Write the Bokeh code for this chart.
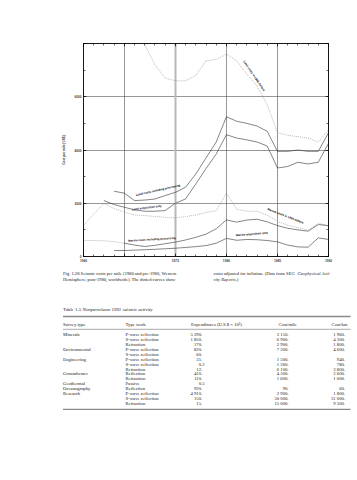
from bokeh.plotting import figure
from bokeh.models import Range1d, LinearAxis, FixedTicker, Grid, ColumnDataSource
from bokeh.embed import file_html
from bokeh.resources import INLINE
from bokeh.core.properties import value

# ---------------- chart data (cost per mile, US$) ----------------
land_1990_years = list(range(1971, 1991))
land_1990_cost = [8600, 7950, 7200, 6700, 6600, 6600, 6800, 7350, 7400, 7600,
                  7350, 6850, 6400, 5700, 4650, 4550, 4500, 4450, 4300, 4750]

land_proc_years = list(range(1969, 1991))
land_proc_cost = [2450, 2380, 2100, 2120, 2160, 2290, 2410, 2600, 3100, 3700, 4300,
                  5250, 5080, 5000, 4900, 4700, 3950, 3950, 4000, 3950, 3950, 4650]

land_acq_years = list(range(1968, 1991))
land_acq_cost = [2100, 1950, 1850, 1750, 1700, 1700, 1725, 2000, 2160, 2725, 3300, 3850,
                 4575, 4450, 4380, 4300, 4150, 3325, 3380, 3540, 3475, 3540, 4250]

marine_1990_years = list(range(1966, 1991))
marine_1990_cost = [1160, 1600, 2000, 1800, 1660, 1560, 1540, 1500, 1475, 1450, 1500, 1560,
                    1650, 1720, 2375, 1780, 1700, 1700, 1550, 1320, 1180, 1080, 990, 1250, 1150]

marine_early_years = list(range(1966, 1971))
marine_early_cost = [600, 600, 590, 560, 500]

marine_proc_years = list(range(1970, 1991))
marine_proc_cost = [500, 430, 375, 420, 480, 540, 620, 720, 840, 1040, 1375,
                    1290, 1370, 1400, 1300, 1160, 1060, 1000, 950, 1200, 1160]

marine_acq_years = list(range(1969, 1991))
marine_acq_cost = [225, 225, 240, 255, 270, 290, 310, 340, 370, 410, 500,
                   680, 610, 640, 630, 600, 550, 430, 360, 350, 700, 640]

curve_labels = ["Land costs in 1990 dollars", "Land costs including processing",
                "Land acquisition only", "Marine costs including processing",
                "Marine acquisition only", "Marine costs in 1990 dollars"]

x_major = [1966, 1970, 1975, 1980, 1985, 1990]
x_minor = list(range(1966, 1991))
y_major = [0, 2000, 4000, 6000, 8000]
y_minor = list(range(0, 8001, 1000))

# ---------------- caption / table data ----------------
fig_caption_left = ["Fig. 1.28  Seismic costs per mile (1980 and pre-1980, Western",
                    "Hemisphere; post-1980, worldwide). The dotted curves show"]
fig_caption_right = "costs adjusted for inflation. (Data from SEG "
fig_caption_right_it = "Geophysical Acti-"
fig_caption_right2 = "vity Reports.)"

table_number = "Table 1.5 "
table_title = "Nonpetroleum 1991 seismic activity"
headers = ["Survey type", "Type work", "Expenditures (U.S.$ \u00d7 10\u00b3)", "Cost/mile", "Cost/km"]
survey_type = ["Minerals", "", "", "Environmental", "", "Engineering", "", "",
               "Groundwater", "", "Geothermal", "Oceanography", "Research", "", ""]
type_work = ["P-wave reflection", "S-wave reflection", "Refraction",
             "P-wave reflection", "S-wave reflection",
             "P-wave reflection", "S-wave reflection", "Refraction",
             "Reflection", "Refraction", "Passive", "Reflection",
             "P-wave reflection", "S-wave reflection", "Refraction"]
expenditures = ["5 290.", "1 850.", "170.", "820.", "60.", "31.", "0.2", "12.",
                "410.", "110.", "0.5", "920.", "4 910.", "150.", "15."]
cost_mile = ["3 150.", "6 900.", "2 900.", "7 300.", "", "1 500.", "1 260.", "6 100.",
             "4 300.", "1 600.", "", "90.", "2 900.", "50 000.", "15 000."]
cost_km = ["1 960.", "4 300.", "1 800.", "4 600.", "", "940.", "780.", "3 800.",
           "2 600.", "1 000.", "", "60.", "1 800.", "31 000.", "9 300."]

# ---------------- chart ----------------
W = 357
CHART_H = 266
p = figure(width=W, height=CHART_H, output_backend="svg", toolbar_location=None,
           x_range=Range1d(1966, 1990), y_range=Range1d(0, 8000),
           min_border_left=83, min_border_right=29, min_border_top=43,
           min_border_bottom=10)
p.outline_line_color = "black"
p.outline_line_width = 0.7
p.background_fill_color = "white"
p.border_fill_color = "white"

SANS = value("Liberation Sans")


def style_axis(ax, labels=True):
    ax.axis_line_color = "black"
    ax.axis_line_width = 0.7
    ax.major_tick_in = 3
    ax.major_tick_out = 0
    ax.minor_tick_in = 2
    ax.minor_tick_out = 0
    ax.major_tick_line_color = "black"
    ax.minor_tick_line_color = "black"
    ax.major_tick_line_width = 0.6
    ax.minor_tick_line_width = 0.6
    ax.major_label_text_font = "Liberation Sans"
    ax.major_label_text_font_style = "bold"
    ax.major_label_text_font_size = "3.2px" if labels else "0px"
    ax.major_label_standoff = 2 if labels else 0


p.xaxis.ticker = FixedTicker(ticks=x_major, minor_ticks=x_minor)
p.xaxis.major_label_overrides = {1970: ""}
style_axis(p.xaxis[0])
p.yaxis.ticker = FixedTicker(ticks=y_major, minor_ticks=y_minor)
p.yaxis.major_label_overrides = {8000: ""}
style_axis(p.yaxis[0])
p.yaxis.axis_label = "Cost per mile (US$)"
p.yaxis.axis_label_text_font = "Liberation Sans"
p.yaxis.axis_label_text_font_style = "bold"
p.yaxis.axis_label_text_font_size = "3.2px"
p.yaxis.axis_label_standoff = 6

top_ax = LinearAxis(ticker=FixedTicker(ticks=x_major, minor_ticks=x_minor),
                    major_label_overrides={t: "" for t in x_major})
style_axis(top_ax, labels=False)
p.add_layout(top_ax, "above")
right_ax = LinearAxis(ticker=FixedTicker(ticks=y_major, minor_ticks=y_minor),
                      major_label_overrides={t: "" for t in y_major})
style_axis(right_ax, labels=False)
p.add_layout(right_ax, "right")

p.xgrid.ticker = FixedTicker(ticks=[1970, 1980, 1985])
p.xgrid.grid_line_color = "#505050"
p.xgrid.grid_line_width = 0.6
p.ygrid.ticker = FixedTicker(ticks=y_major)
p.ygrid.grid_line_color = "#505050"
p.ygrid.grid_line_width = 0.6
p.add_layout(Grid(dimension=0, ticker=FixedTicker(ticks=[1975]),
                  grid_line_color="#b8b8b8", grid_line_width=2.0))

solid = dict(line_color="#333333", line_width=0.6)
dotted = dict(line_color="#8a8a8a", line_width=0.6, line_dash="1 1")

p.line(land_1990_years, land_1990_cost, **dotted)
p.line(land_proc_years, land_proc_cost, **solid)
p.line(land_acq_years, land_acq_cost, **solid)
p.line(marine_1990_years, marine_1990_cost, **dotted)
p.line(marine_early_years, marine_early_cost, **dotted)
p.line(marine_proc_years, marine_proc_cost, **solid)
p.line(marine_acq_years, marine_acq_cost, **solid)

label_src = ColumnDataSource(dict(
    x=[1982.75, 1973.3, 1972.2, 1972.7, 1982.5, 1985.8],
    y=[6790, 2510, 1850, 660, 860, 1540],
    text=curve_labels,
    angle=[-0.97, 0.22, 0.12, 0.06, 0.08, -0.37],
))
p.text(x="x", y="y", text="text", angle="angle", source=label_src,
       text_font=SANS, text_font_style="bold", text_font_size="2.9px",
       text_align="center", text_baseline="middle", text_color="black")

# ---------------- caption + table (separate root, page-pixel coordinates) ----------------
q = figure(width=W, height=480 - CHART_H, output_backend="svg", toolbar_location=None,
           x_range=Range1d(0, W), y_range=Range1d(480, CHART_H),
           x_axis_type=None, y_axis_type=None, min_border=0)
q.outline_line_color = None
q.xgrid.visible = False
q.ygrid.visible = False
q.background_fill_color = "white"
q.border_fill_color = "white"

SERIF = value("Liberation Serif")
base = dict(text_font=SERIF, text_baseline="middle", text_color="#1a1a1a")

cap_fs = "4.6px"
q.text(x=[62.5, 62.5], y=[272.5, 278.5], text=fig_caption_left, text_font_size=cap_fs, **base)
q.text(x=[213], y=[272.5], text=[fig_caption_right], text_font_size=cap_fs, **base)
q.text(x=[297], y=[272.5], text=[fig_caption_right_it], text_font_size=cap_fs,
       text_font_style="italic", **base)
q.text(x=[213], y=[278.5], text=[fig_caption_right2], text_font_size=cap_fs,
       text_font_style="italic", **base)

q.text(x=[62.5], y=[309], text=[table_number], text_font_size="4.9px", **base)
q.text(x=[82], y=[309], text=[table_title], text_font_size="4.9px",
       text_font_style="italic", **base)

q.segment(x0=[62.5], y0=[316], x1=[350], y1=[316], line_color="#8a8a8a", line_width=1.3)
q.segment(x0=[62.5], y0=[328.8], x1=[350], y1=[328.8], line_color="#555555", line_width=0.5)

tfs = "4.7px"
q.text(x=[62.5, 125, 190.5, 278, 331], y=[323.5] * 5, text=headers,
       text_font_size=tfs, **base)

row0, pitch = 334.2, 4.9
ys = [row0 + i * pitch for i in range(len(type_work))]
q.text(x=[62.5] * len(ys), y=ys, text=survey_type, text_font_size=tfs, **base)
q.text(x=[125] * len(ys), y=ys, text=type_work, text_font_size=tfs, **base)

exp_int = [e.split(".")[0] for e in expenditures]
exp_frac = ["." + e.split(".")[1] for e in expenditures]
q.text(x=[200.5] * len(ys), y=ys, text=exp_int, text_font_size=tfs, text_align="right", **base)
q.text(x=[200.5] * len(ys), y=ys, text=exp_frac, text_font_size=tfs, text_align="left", **base)
q.text(x=[288] * len(ys), y=ys, text=cost_mile, text_font_size=tfs, text_align="right", **base)
q.text(x=[344.5] * len(ys), y=ys, text=cost_km, text_font_size=tfs, text_align="right", **base)

q.segment(x0=[62.5], y0=[ys[-1] + 6], x1=[350], y1=[ys[-1] + 6],
          line_color="#8a8a8a", line_width=1.3)

open("out.html", "w").write(file_html([p, q], INLINE))
